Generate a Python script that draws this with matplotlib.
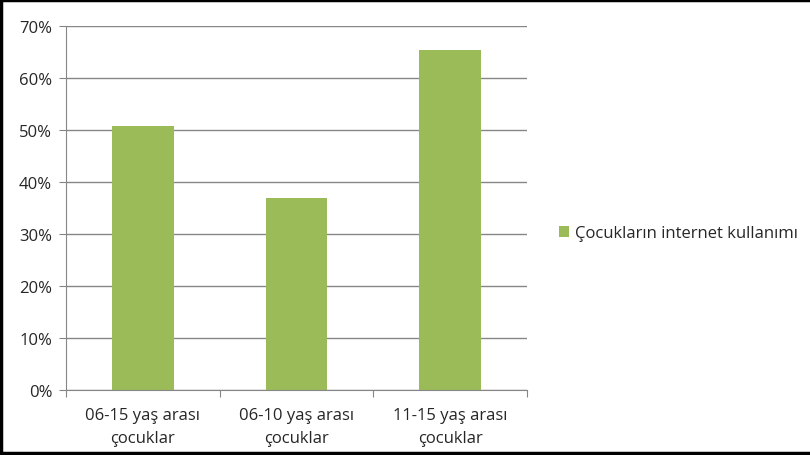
import matplotlib
matplotlib.use('Agg')
import matplotlib.pyplot as plt
from matplotlib.lines import Line2D
from matplotlib.patches import Patch

plt.rcParams['font.family'] = ['Open Sans', 'DejaVu Sans']

# internet use among children, by age group
groups = ['06-15 yaş arası\nçocuklar', '06-10 yaş arası\nçocuklar', '11-15 yaş arası\nçocuklar']
usage = [50.8, 36.9, 65.4]
series_name = 'Çocukların internet kullanımı'
yticks = [0, 10, 20, 30, 40, 50, 60, 70]

bar_color = '#9BBB59'
grid_color = '#868686'
text_color = '#262626'
fsize = 12

fig = plt.figure(figsize=(8.1, 4.56), dpi=100)
ax = fig.add_axes([0.0815, 0.1425, 0.569, 0.798])

ind = range(len(groups))
ax.bar(ind, usage, width=0.4, color=bar_color, zorder=3)

ax.set_xlim(-0.5, len(groups) - 0.5)
ax.set_ylim(0, 70)
ax.set_yticks(yticks)
ax.set_yticklabels(['%d%%' % v for v in yticks], fontsize=fsize, color=text_color)
ax.yaxis.grid(True, color=grid_color, linewidth=1)
ax.tick_params(axis='y', length=5, color=grid_color, pad=5)

# category labels centred, tick marks on category boundaries
ax.set_xticks([i - 0.5 for i in range(len(groups) + 1)])
ax.set_xticklabels([])
ax.set_xticks(list(ind), minor=True)
ax.set_xticklabels(groups, minor=True, fontsize=fsize, color=text_color, linespacing=1.6)
ax.tick_params(axis='x', which='major', length=5, color=grid_color)
ax.tick_params(axis='x', which='minor', length=0, pad=12)

for side in ['top', 'right']:
    ax.spines[side].set_visible(False)
for side in ['left', 'bottom']:
    ax.spines[side].set_color(grid_color)
    ax.spines[side].set_zorder(4)

handle = Patch(facecolor=bar_color, edgecolor='none')
fig.legend([handle], [series_name], loc='center left', bbox_to_anchor=(0.672, 0.486),
           frameon=False, fontsize=fsize, handlelength=0.6, handleheight=0.6,
           handletextpad=0.35, labelcolor=text_color)

# frame on left, top and bottom edges
for xs, ys in [([0.0015, 0.0015], [0, 1]), ([0, 1], [0.997, 0.997]), ([0, 1], [0.0035, 0.0035])]:
    fig.add_artist(Line2D(xs, ys, transform=fig.transFigure, color='black', linewidth=2.5))

fig.savefig('out.png', dpi=100)
